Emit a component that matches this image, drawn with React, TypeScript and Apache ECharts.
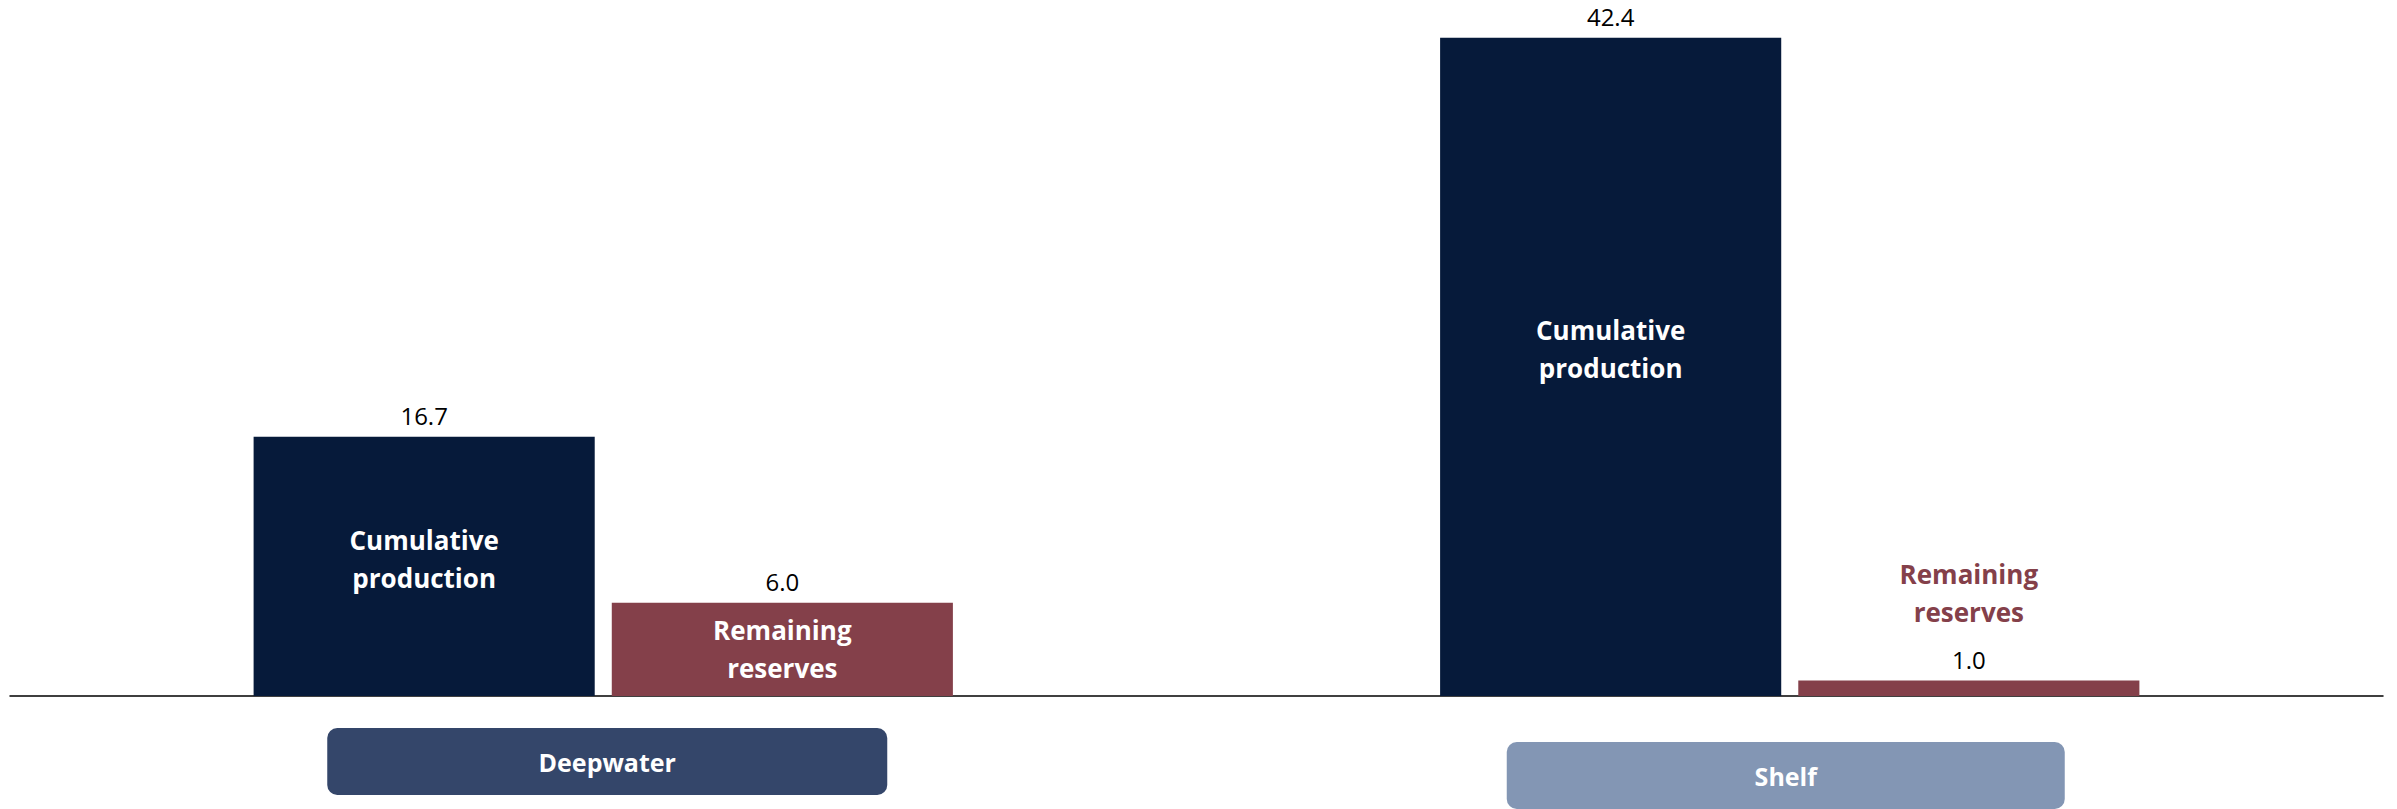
import React, { useEffect, useRef } from "react";
import * as echarts from "echarts";

const categories = ["Deepwater", "Shelf"];
const cumulativeProduction = [16.7, 42.4];
const remainingReserves = [6.0, 1.0];
const seriesNames = ["Cumulative production", "Remaining reserves"];

const FONT = "Open Sans";
const NAVY = "#061a3a";
const MAROON = "#84404a";

export default function App() {
  const ref = useRef<HTMLDivElement>(null);
  useEffect(() => {
    if (!ref.current) return;
    const chart = echarts.init(ref.current, null, { renderer: "svg" });
    const nameLabel = (name: string) => name.replace(" ", "\n");

    const cumData = cumulativeProduction.map((v, i) => ({
      value: v,
      label: { offset: [0, i === 0 ? -7 : -18] },
    }));
    const remData = remainingReserves.map((v, i) =>
      i === 1
        ? {
            value: v,
            label: { position: "top", distance: 49, color: MAROON },
          }
        : { value: v }
    );

    const valueLabel = (arr: number[]) => ({
      show: true,
      position: "top",
      distance: 9,
      color: "#000",
      fontFamily: FONT,
      fontSize: 24,
      formatter: (p: any) => arr[p.dataIndex].toFixed(1),
    });

    const boxStyle = (bg: string, w: number) => ({
      width: w,
      height: 67,
      lineHeight: 67,
      backgroundColor: bg,
      borderRadius: 10,
      color: "#fff",
      fontWeight: "bold",
      fontSize: 25,
      fontFamily: FONT,
      align: "center",
    });

    chart.setOption({
      animation: false,
      grid: { left: 10, right: 14, top: 13, bottom: 112, containLabel: false },
      xAxis: {
        type: "category",
        data: categories,
        axisTick: { show: false },
        axisLine: { lineStyle: { color: "#000", width: 1.5 } },
        axisLabel: {
          margin: 32,
          interval: 0,
          formatter: (v: string) =>
            v === "Shelf"
              ? "{sp| }\n{sh|" + v + "}{hs| }"
              : "{hs| }{dw|" + v + "}",
          rich: {
            sp: { height: 14, lineHeight: 14, fontSize: 1 },
            hs: { width: 8, fontSize: 1 },
            dw: boxStyle("#34466a", 560),
            sh: boxStyle("#8396b4", 558),
          },
        },
      },
      yAxis: {
        type: "value",
        min: 0,
        max: 44,
        show: false,
        splitLine: { show: false },
      },
      series: [
        {
          name: seriesNames[0],
          type: "bar",
          stack: "cum",
          stackStrategy: "all",
          barWidth: "28.75%",
          barGap: "5%",
          itemStyle: { color: NAVY },
          data: cumData,
          label: {
            show: true,
            position: "inside",
            color: "#fff",
            fontFamily: FONT,
            fontWeight: "bold",
            fontSize: 26,
            lineHeight: 38,
            formatter: () => nameLabel(seriesNames[0]),
          },
        },
        {
          name: "cumValue",
          type: "bar",
          stack: "cum",
          stackStrategy: "all",
          barWidth: "28.75%",
          itemStyle: { color: "transparent" },
          data: cumulativeProduction.map(() => 0),
          label: valueLabel(cumulativeProduction),
        },
        {
          name: seriesNames[1],
          type: "bar",
          stack: "rem",
          stackStrategy: "all",
          barWidth: "28.75%",
          itemStyle: { color: MAROON },
          data: remData,
          label: {
            show: true,
            position: "inside",
            color: "#fff",
            fontFamily: FONT,
            fontWeight: "bold",
            fontSize: 26,
            lineHeight: 38,
            formatter: () => nameLabel(seriesNames[1]),
          },
        },
        {
          name: "remValue",
          type: "bar",
          stack: "rem",
          stackStrategy: "all",
          barWidth: "28.75%",
          itemStyle: { color: "transparent" },
          data: remainingReserves.map(() => 0),
          label: valueLabel(remainingReserves),
        },
      ],
    });
    return () => chart.dispose();
  }, []);
  return (
    <div
      ref={ref}
      style={{
        position: "fixed",
        left: 0,
        top: 0,
        width: 2397,
        height: 809,
        background: "#fff",
      }}
    />
  );
}
